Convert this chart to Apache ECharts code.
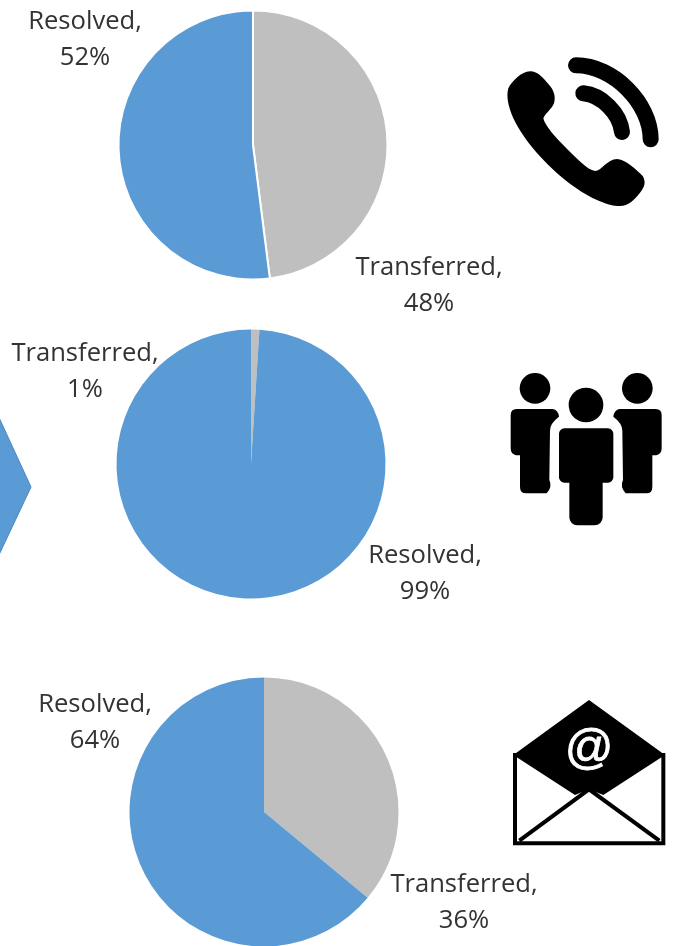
<!DOCTYPE html>
<html>
<head>
<meta charset="utf-8">
<style>html,body{margin:0;padding:0;background:#fff}#c{width:678px;height:946px}</style>
<script src="https://cdn.jsdelivr.net/npm/echarts@6/dist/echarts.min.js"></script>
</head>
<body>
<div id="c"></div>
<script>
// Data
const phoneCategories = ['Transferred', 'Resolved'];
const phoneValues = [48, 52];
const peopleCategories = ['Transferred', 'Resolved'];
const peopleValues = [1, 99];
const emailCategories = ['Transferred', 'Resolved'];
const emailValues = [36, 64];

const BLUE = '#5B9BD5', GREY = '#BFBFBF';
const colorOf = { Resolved: BLUE, Transferred: GREY };

function pie(center, radius, borderWidth, cats, vals, labelPos) {
  return {
    type: 'pie',
    center: center,
    radius: radius,
    startAngle: 90,
    clockwise: true,
    animation: false,
    silent: true,
    itemStyle: { borderColor: '#fff', borderWidth: borderWidth },
    label: {
      show: true,
      position: 'inside',
      overflow: 'none',
      formatter: p => p.name + ',\n' + p.value + '%',
      fontFamily: '"Open Sans", "Noto Sans", sans-serif',
      fontSize: 25.6,
      lineHeight: 36,
      color: '#333333',
      align: 'center'
    },
    labelLine: { show: false },
    labelLayout: p => ({ x: labelPos[p.dataIndex][0], y: labelPos[p.dataIndex][1], align: 'center', verticalAlign: 'middle', hideOverlap: false }),
    data: cats.map((c, i) => ({ name: c, value: vals[i], itemStyle: { color: colorOf[c] } }))
  };
}

const person = 'M80 147 L188 147 Q205 150 207 170 Q180 190 180 212 L178 360 Q188 380 170 400 L108 400 Q90 400 90 380 L90 286 L78 286 Q62 282 62 265 L62 165 Q62 147 80 147 Z';
const fillBlack = { fill: '#000' };

function iconGroup(x, y, children) {
  return { type: 'group', x: x, y: y, scaleX: 1/3, scaleY: 1/3, silent: true, children: children };
}

function renderIcons() {
  return { type: 'group', silent: true, children: [
    iconGroup(480, 40, [
      { type: 'path', shape: { pathData: 'M150 94 C175 94 190 115 205 132 C222 150 228 170 222 190 C215 208 195 220 190 235 C195 258 225 290 262 328 C290 355 322 390 345 393 C365 393 380 358 412 357 C440 360 470 390 488 408 C498 425 495 440 480 458 C462 480 445 498 420 498 C380 498 320 470 262 425 C200 378 130 300 100 235 C85 200 78 170 85 145 C95 125 125 94 150 94 Z' }, style: fillBlack },
      { type: 'path', shape: { pathData: 'M288 76 C400 76 512 190 512 298' }, style: { fill: null, stroke: '#000', lineWidth: 48, lineCap: 'round' } },
      { type: 'path', shape: { pathData: 'M310 160 C365 165 420 220 426 276' }, style: { fill: null, stroke: '#000', lineWidth: 48, lineCap: 'round' } }
    ]),
    iconGroup(490, 360, [
      { type: 'circle', shape: { cx: 135, cy: 85, r: 46 }, style: fillBlack },
      { type: 'circle', shape: { cx: 442, cy: 85, r: 46 }, style: fillBlack },
      { type: 'circle', shape: { cx: 288, cy: 135, r: 52 }, style: fillBlack },
      { type: 'path', shape: { pathData: person }, style: fillBlack },
      { type: 'path', x: 577, scaleX: -1, shape: { pathData: person }, style: fillBlack },
      { type: 'rect', shape: { x: 207, y: 205, width: 163, height: 163, r: 16 }, style: fillBlack },
      { type: 'rect', shape: { x: 238, y: 340, width: 100, height: 156, r: 24 }, style: fillBlack }
    ]),
    iconGroup(490, 690, [
      { type: 'polygon', shape: { points: [[297, 30], [525, 195], [340, 315], [297, 298], [255, 315], [70, 195]] }, style: fillBlack },
      { type: 'polygon', shape: { points: [[75, 195], [520, 195], [520, 460], [75, 460]] }, style: { fill: null, stroke: '#000', lineWidth: 12 } },
      { type: 'polyline', shape: { points: [[88, 452], [297, 298], [508, 452]] }, style: { fill: null, stroke: '#000', lineWidth: 12 } }
    ]),
    { type: 'text', x: 589, y: 750, style: {
      text: '@', fill: '#fff', stroke: '#fff', lineWidth: 0.8, font: '48px "Liberation Sans", Arial, sans-serif', textAlign: 'center', textVerticalAlign: 'middle' } }
  ]};
}

const chart = echarts.init(document.getElementById('c'), null, { renderer: 'canvas' });
chart.setOption({
  backgroundColor: '#fff',
  animation: false,
  series: [
    pie([253, 145], 134.5, 2, phoneCategories, phoneValues, [[429, 286], [85, 40]]),
    pie([251, 464], 134.5, 0, peopleCategories, peopleValues, [[85, 372], [425, 574]]),
    pie([264, 812], 134.5, 0, emailCategories, emailValues, [[464, 903], [95, 723]]),
    { type: 'custom', coordinateSystem: 'none', silent: true, animation: false, data: [[0]], renderItem: renderIcons }
  ],
  graphic: { elements: [
    { type: 'polygon', silent: true,
      shape: { points: [[-10, 398], [31, 487], [-10, 574]] },
      style: { fill: BLUE, stroke: '#4A86BE', lineWidth: 1 } }
  ]}
});
</script>
</body>
</html>
